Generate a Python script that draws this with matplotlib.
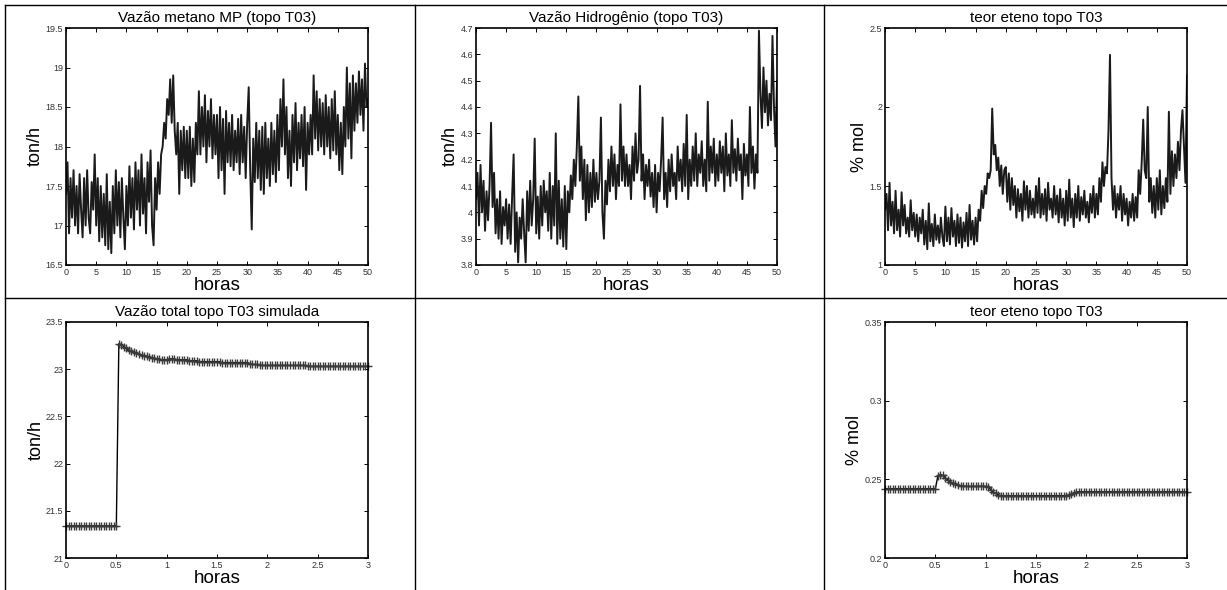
import numpy as np
import matplotlib
matplotlib.use("Agg")
import matplotlib.pyplot as plt
from matplotlib.lines import Line2D
from matplotlib.ticker import FormatStrFormatter

plt.rcParams['font.family'] = ['Liberation Sans', 'DejaVu Sans']

# plant data, sampled every 15 min over 50 h
metano = [
    17.4, 17.8, 16.9, 17.6, 17.1, 17.7, 17.0, 17.5, 16.9, 17.65, 17.2, 16.85, 17.6, 17.0, 17.7, 17.1, 16.9, 17.55, 17.2, 17.9,
    17.0, 17.6, 16.8, 17.5, 16.85, 17.4, 16.75, 17.65, 16.7, 17.3, 16.65, 17.5, 16.9, 17.7, 17.0, 17.55, 16.85, 17.6, 17.1, 16.7,
    17.5, 17.0, 17.75, 17.1, 17.6, 16.95, 17.8, 17.2, 17.7, 17.0, 17.9, 17.15, 17.6, 16.9, 17.8, 17.3, 17.95, 17.0, 16.75, 17.6,
    17.2, 17.8, 17.4, 17.9, 18.0, 18.3, 18.1, 18.6, 18.4, 18.85, 18.3, 18.9, 18.2, 17.9, 18.3, 17.4, 18.2, 17.7, 18.25, 17.6,
    18.2, 17.6, 18.25, 17.5, 18.1, 17.55, 18.3, 17.9, 18.7, 17.9, 18.5, 18.0, 18.65, 17.8, 18.45, 18.0, 18.6, 17.85, 18.4, 17.9,
    18.4, 17.6, 18.5, 17.7, 18.35, 17.4, 18.45, 17.8, 18.3, 17.75, 18.4, 17.7, 18.2, 17.8, 18.35, 17.65, 18.4, 17.8, 18.25, 17.6,
    18.3, 18.75, 17.7, 16.95, 18.1, 17.55, 18.3, 17.6, 18.2, 17.45, 18.25, 17.4, 18.3, 17.6, 18.1, 17.5, 18.3, 17.65, 18.2, 17.55,
    18.4, 17.7, 18.6, 18.0, 18.85, 17.9, 18.5, 17.6, 18.2, 17.5, 18.4, 17.8, 18.55, 17.7, 18.3, 17.85, 18.4, 17.75, 18.5, 17.45,
    18.3, 17.9, 18.4, 17.9, 18.9, 18.1, 18.7, 17.95, 18.6, 18.0, 18.55, 17.9, 18.65, 18.0, 18.5, 17.85, 18.6, 17.95, 18.7, 17.9,
    18.4, 17.7, 18.3, 17.65, 18.5, 18.0, 19.0, 18.1, 18.8, 17.85, 18.9, 18.2, 18.8, 18.3, 18.95, 18.4, 18.85, 18.2, 19.05, 18.5, 18.6,
]

hidrogenio = [
    4.05, 4.15, 3.95, 4.18, 4.0, 4.12, 3.93, 4.08, 3.97, 4.1, 4.34, 4.02, 4.15, 3.92, 4.05, 3.9, 4.08, 3.88, 4.02, 3.95,
    4.05, 3.9, 4.03, 3.88, 4.06, 4.22, 3.85, 4.0, 3.81, 3.98, 3.9, 4.05, 3.92, 3.81, 4.08, 3.93, 4.12, 3.95, 4.05, 4.28,
    3.92, 4.06, 3.9, 4.1, 3.95, 4.12, 4.0, 4.08, 3.93, 4.15, 3.9, 4.1, 3.95, 4.3, 3.88, 4.12, 3.9, 4.05, 3.87, 4.1,
    3.86, 4.08, 4.0, 4.14, 4.05, 4.2, 4.1, 4.25, 4.44, 4.12, 4.25, 4.05, 4.2, 3.97, 4.18, 4.0, 4.15, 4.02, 4.2, 4.04,
    4.15, 4.05, 4.12, 4.36, 4.0, 3.9, 4.12, 4.03, 4.2, 4.08, 4.25, 4.1, 4.22, 4.05, 4.18, 4.1, 4.41, 4.12, 4.25, 4.1,
    4.22, 4.1, 4.18, 4.05, 4.25, 4.12, 4.3, 4.15, 4.2, 4.48, 4.12, 4.22, 4.05, 4.18, 4.1, 4.2, 4.06, 4.15, 4.02, 4.18,
    4.0, 4.15, 4.08, 4.2, 4.36, 4.05, 4.15, 4.02, 4.2, 4.08, 4.22, 4.1, 4.15, 4.05, 4.25, 4.12, 4.2, 4.08, 4.26, 4.1,
    4.37, 4.05, 4.2, 4.1, 4.25, 4.12, 4.3, 4.1, 4.22, 4.15, 4.27, 4.1, 4.2, 4.08, 4.42, 4.12, 4.25, 4.15, 4.28, 4.1,
    4.22, 4.12, 4.27, 4.15, 4.25, 4.08, 4.3, 4.14, 4.22, 4.1, 4.35, 4.15, 4.24, 4.12, 4.28, 4.16, 4.22, 4.05, 4.26, 4.14,
    4.22, 4.1, 4.4, 4.15, 4.25, 4.09, 4.22, 4.15, 4.69, 4.45, 4.32, 4.55, 4.38, 4.5, 4.33, 4.45, 4.35, 4.67, 4.4, 4.25, 4.5,
]

eteno = [
    1.35, 1.45, 1.22, 1.52, 1.25, 1.4, 1.2, 1.47, 1.22, 1.35, 1.18, 1.46, 1.25, 1.38, 1.2, 1.3, 1.18, 1.41, 1.22, 1.33,
    1.18, 1.32, 1.15, 1.3, 1.2, 1.35, 1.13, 1.28, 1.1, 1.39, 1.15, 1.26, 1.12, 1.32, 1.16, 1.25, 1.14, 1.3, 1.18, 1.12,
    1.37, 1.15, 1.3, 1.13, 1.36, 1.18, 1.28, 1.12, 1.32, 1.14, 1.3, 1.11, 1.27, 1.15, 1.33, 1.12, 1.38, 1.16, 1.28, 1.13,
    1.3, 1.15, 1.35, 1.28, 1.47, 1.36, 1.5, 1.45, 1.58, 1.55, 1.6, 1.99, 1.7, 1.76, 1.6, 1.68, 1.5, 1.63, 1.45, 1.6,
    1.62, 1.4, 1.58, 1.35, 1.55, 1.38, 1.5, 1.3, 1.48, 1.34, 1.45, 1.28, 1.53, 1.35, 1.5, 1.3, 1.47, 1.32, 1.42, 1.3,
    1.5, 1.33, 1.55, 1.3, 1.45, 1.32, 1.48, 1.28, 1.52, 1.35, 1.42, 1.3, 1.5, 1.32, 1.44, 1.27, 1.48, 1.3, 1.42, 1.25,
    1.47, 1.28, 1.54, 1.3, 1.42, 1.24, 1.45, 1.3, 1.5, 1.28, 1.43, 1.32, 1.47, 1.3, 1.4, 1.27, 1.45, 1.33, 1.5, 1.3,
    1.45, 1.32, 1.55, 1.4, 1.65, 1.5, 1.62, 1.58, 1.85, 2.33, 1.55, 1.35, 1.5, 1.3, 1.45, 1.35, 1.5, 1.28, 1.45, 1.32,
    1.42, 1.25, 1.4, 1.3, 1.45, 1.28, 1.43, 1.3, 1.6, 1.45, 1.65, 1.92, 1.6, 1.55, 2.0, 1.4, 1.55, 1.33, 1.5, 1.3,
    1.55, 1.35, 1.6, 1.32, 1.5, 1.36, 1.55, 1.4, 1.97, 1.45, 1.72, 1.5, 1.7, 1.55, 1.78, 1.6, 1.85, 1.98, 1.75, 1.52, 2.2,
]

# simulation results, 1.5 min steps over 3 h
vazao_sim = [
    21.34, 21.34, 21.34, 21.34, 21.34, 21.34, 21.34, 21.34, 21.34, 21.34, 21.34,
    21.34, 21.34, 21.34, 21.34, 21.34, 21.34, 21.34, 21.34, 21.34, 21.34,
    23.27, 23.26, 23.24, 23.22, 23.20, 23.19, 23.18, 23.17, 23.16, 23.15,
    23.14, 23.14, 23.13, 23.12, 23.12, 23.11, 23.11, 23.10, 23.10, 23.10,
    23.11, 23.11, 23.11, 23.10, 23.10, 23.10, 23.10, 23.10, 23.09, 23.09,
    23.09, 23.09, 23.08, 23.08, 23.08, 23.08, 23.08, 23.08, 23.08, 23.08,
    23.08, 23.07, 23.07, 23.07, 23.07, 23.07, 23.07, 23.07, 23.07, 23.07, 23.07, 23.07,
    23.06, 23.05, 23.05, 23.05, 23.04, 23.04, 23.04, 23.04, 23.04, 23.04, 23.04,
    23.04, 23.04, 23.04, 23.04, 23.04, 23.04, 23.04, 23.04, 23.04, 23.04, 23.04, 23.04,
    23.03, 23.03, 23.03, 23.03, 23.03, 23.03, 23.03, 23.03, 23.03, 23.03, 23.03, 23.03,
    23.03, 23.03, 23.03, 23.03, 23.03, 23.03, 23.03, 23.03, 23.03, 23.03, 23.03, 23.03,
    23.03,
]

eteno_sim = [
    0.244, 0.244, 0.244, 0.244, 0.244, 0.244, 0.244, 0.244, 0.244, 0.244, 0.244,
    0.244, 0.244, 0.244, 0.244, 0.244, 0.244, 0.244, 0.244, 0.244, 0.244,
    0.252, 0.253, 0.2525, 0.251, 0.2495, 0.2485, 0.2475, 0.247, 0.2465, 0.246,
    0.2458, 0.2456, 0.2455, 0.2455, 0.2455, 0.2455, 0.2455, 0.2456, 0.2456, 0.2455,
    0.245, 0.2435, 0.242, 0.241, 0.2402, 0.2397, 0.2395,
    0.2395, 0.2395, 0.2395, 0.2395, 0.2395, 0.2395, 0.2395, 0.2395, 0.2395, 0.2395,
    0.2396, 0.2396, 0.2396, 0.2396, 0.2396, 0.2396, 0.2396, 0.2396, 0.2396, 0.2396,
    0.2396, 0.2396, 0.2396, 0.2396, 0.2397,
    0.2398, 0.2405, 0.2413, 0.2419, 0.2421,
    0.2421, 0.2421, 0.2421, 0.2421, 0.2421, 0.2421, 0.2421, 0.2421, 0.2421, 0.2421,
    0.2421, 0.2421, 0.2421, 0.2421, 0.2421, 0.2421, 0.2421, 0.2421, 0.2421, 0.2421,
    0.2421, 0.2421, 0.2421, 0.2421, 0.2421, 0.2421, 0.2421, 0.2421, 0.2421, 0.2421,
    0.2421, 0.2421, 0.2421, 0.2421, 0.2421, 0.2421, 0.2421, 0.2421, 0.2421, 0.2421,
    0.2421, 0.2421, 0.2421,
]

t_plant = np.linspace(0, 50, len(metano))
t_vaz = np.linspace(0, 3, len(vazao_sim))
t_et = np.linspace(0, 3, len(eteno_sim))

W, H = 1227, 590
fig = plt.figure(figsize=(W / 100, H / 100), dpi=100)


def box(x0, y0, x1, y1):
    # pixel box (top-left origin) -> figure fraction rect
    return [x0 / W, 1 - y1 / H, (x1 - x0) / W, (y1 - y0) / H]


def style(ax, title, ylabel, xticks, yticks):
    ax.set_title(title, fontsize=11, pad=4)
    ax.set_xlabel("horas", fontsize=13.5, labelpad=0)
    ax.set_ylabel(ylabel, fontsize=13, labelpad=1)
    ax.set_xticks(xticks)
    ax.set_yticks(yticks)
    ax.set_xlim(xticks[0], xticks[-1])
    ax.set_ylim(yticks[0], yticks[-1])
    ax.xaxis.set_major_formatter(FormatStrFormatter('%g'))
    ax.yaxis.set_major_formatter(FormatStrFormatter('%g'))
    ax.tick_params(direction='in', length=3, width=0.7, top=True, right=True,
                   labelsize=6.5, labelcolor='#333333', pad=2)
    for s in ax.spines.values():
        s.set_linewidth(1.2)


ax1 = fig.add_axes(box(66, 28, 368, 265))
ax1.plot(t_plant, metano, color='#1a1a1a', lw=1.4)
style(ax1, "Vazão metano MP (topo T03)", "ton/h",
      np.arange(0, 51, 5), np.arange(16.5, 19.51, 0.5))

ax2 = fig.add_axes(box(476, 28, 777, 265))
ax2.plot(t_plant, hidrogenio, color='#1a1a1a', lw=1.4)
style(ax2, "Vazão Hidrogênio (topo T03)", "ton/h",
      np.arange(0, 51, 5), np.round(np.arange(3.8, 4.71, 0.1), 1))

ax3 = fig.add_axes(box(885, 28, 1187, 265))
ax3.plot(t_plant, eteno, color='#1a1a1a', lw=1.4)
style(ax3, "teor eteno topo T03", "% mol",
      np.arange(0, 51, 5), np.arange(1, 2.51, 0.5))

ax4 = fig.add_axes(box(66, 322, 368, 558))
ax4.plot(t_vaz, vazao_sim, color='black', lw=1.0, marker='+', ms=6,
         mec='#3a3a3a', mew=1.0, clip_on=False)
style(ax4, "Vazão total topo T03 simulada", "ton/h",
      np.arange(0, 3.01, 0.5), np.arange(21, 23.51, 0.5))

ax6 = fig.add_axes(box(885, 322, 1187, 558))
ax6.plot(t_et, eteno_sim, color='black', lw=1.0, marker='+', ms=6,
         mec='#3a3a3a', mew=1.0, clip_on=False)
style(ax6, "teor eteno topo T03", "% mol",
      np.arange(0, 3.01, 0.5), np.round(np.arange(0.2, 0.351, 0.05), 2))

# table rules around the panels
rules = [
    ((5, W), (5, 5)),
    ((5, W), (298, 298)),
    ((5, 5), (5, H)),
    ((415, 415), (5, H)),
    ((824, 824), (5, H)),
]
for xs, ys in rules:
    fig.add_artist(Line2D([x / W for x in xs], [1 - y / H for y in ys],
                          color='black', lw=1.0))

fig.savefig("out.png", dpi=100)
